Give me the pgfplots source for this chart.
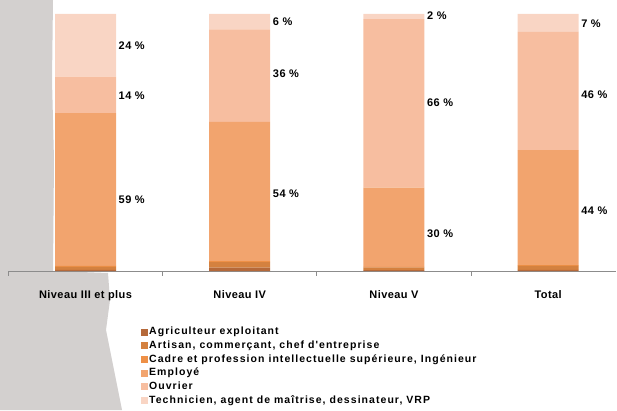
\documentclass[border=0pt]{standalone}
\usepackage{pgfplots}
\pgfplotsset{compat=1.18}
\usepackage{fontspec}
\setmainfont{Liberation Sans}
\newfontfamily\legfont[LetterSpace=10]{Liberation Sans}
\newfontfamily\labfont[LetterSpace=4]{Liberation Sans}
\definecolor{cAgri}{HTML}{B5693A}
\definecolor{cArt}{HTML}{D4813F}
\definecolor{cCadre}{HTML}{EE9047}
\definecolor{cEmp}{HTML}{F2A46E}
\definecolor{cOuv}{HTML}{F7BEA0}
\definecolor{cTech}{HTML}{F9D5C4}
\definecolor{bgGray}{HTML}{D3D0CF}
\definecolor{axGray}{HTML}{8C8C8C}
\begin{document}
\begin{tikzpicture}[x=1pt,y=1pt]
\path[use as bounding box] (0,0) rectangle (617,410);
\fill[bgGray] (0,410) -- (53,410) -- (52,330) -- (54,250) -- (53,139) -- (108,137) -- (110,110) -- (106,80) -- (112,50) -- (118,20) -- (122,0) -- (0,0) -- cycle;
\begin{axis}[
  at={(8.4pt,139pt)}, anchor=south west, scale only axis,
  width=607.6pt, height=257pt,
  xmin=-0.5, xmax=3.44, ymin=0, ymax=100,
  ybar stacked, bar width=61pt,
  legend image code/.code={\fill[#1,draw=none] (0pt,-3.5pt) rectangle (7pt,3.5pt);},
  axis line style={draw=none},
  xtick={0,1,2,3},
  xticklabels={Niveau III et plus, Niveau IV, Niveau V, Total},
  ytick=\empty,
  major tick length=0pt,
  xticklabel style={font=\labfont\bfseries\fontsize{11}{13}\selectfont, yshift=-16pt},
  clip=false,
  legend style={at={(0.2182,-0.2100)}, anchor=north west, draw=none, fill=none,
    inner sep=0pt, font=\legfont\bfseries\fontsize{10.5}{12}\selectfont, row sep=0pt,
    nodes={inner sep=1pt, text height=8.5pt, text depth=3.2pt}},
  legend cell align=left,
]
\addplot[fill=cAgri, draw=none] coordinates {(0,0.4) (1,1.3) (2,0.3) (3,0.4)};
\addlegendentry{Agriculteur exploitant}
\addplot[fill=cArt, draw=none] coordinates {(0,1.2) (1,2.2) (2,1.1) (3,1.6)};
\addlegendentry{Artisan, commerçant, chef d'entreprise}
\addplot[fill=cCadre, draw=none] coordinates {(0,0.4) (1,0.3) (2,0.2) (3,0.3)};
\addlegendentry{Cadre et profession intellectuelle supérieure, Ingénieur}
\addplot[fill=cEmp, draw=none] coordinates {(0,59.4) (1,54.2) (2,30.8) (3,44.7)};
\addlegendentry{Employé}
\addplot[fill=cOuv, draw=none] coordinates {(0,14.2) (1,36.0) (2,65.6) (3,46.0)};
\addlegendentry{Ouvrier}
\addplot[fill=cTech, draw=none] coordinates {(0,24.4) (1,6.0) (2,2.0) (3,7.0)};
\addlegendentry{Technicien, agent de maîtrise, dessinateur, VRP}
\draw[axGray, line width=1pt] (axis cs:-0.5,0) -- (axis cs:3.44,0);
\pgfplotsinvokeforeach{-0.5,0.5,1.5,2.5}{\draw[axGray, line width=0.8pt] (axis cs:#1,0) -- ++(0pt,-5pt);}
\tikzset{lab/.style={anchor=west, inner sep=2.5pt, font=\labfont\bfseries\fontsize{11}{13}\selectfont}}
\node[lab] at (axis cs:0.198,87.5) {24~\%};
\node[lab] at (axis cs:0.198,68.1) {14~\%};
\node[lab] at (axis cs:0.198,27.6) {59~\%};
\node[lab] at (axis cs:1.198,96.9) {6~\%};
\node[lab] at (axis cs:1.198,76.7) {36~\%};
\node[lab] at (axis cs:1.198,30.0) {54~\%};
\node[lab] at (axis cs:2.198,99.2) {2~\%};
\node[lab] at (axis cs:2.198,65.4) {66~\%};
\node[lab] at (axis cs:2.198,14.4) {30~\%};
\node[lab] at (axis cs:3.198,96.1) {7~\%};
\node[lab] at (axis cs:3.198,68.5) {46~\%};
\node[lab] at (axis cs:3.198,23.3) {44~\%};
\end{axis}
\end{tikzpicture}
\end{document}
